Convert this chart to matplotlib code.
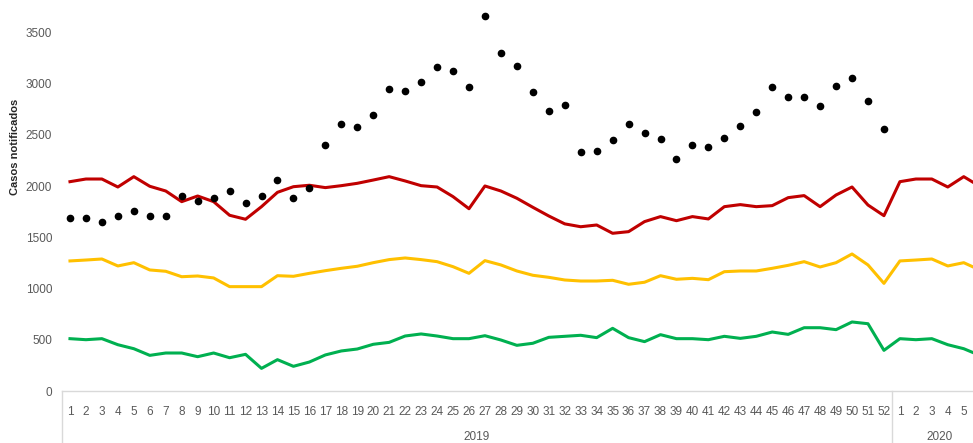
import matplotlib.pyplot as plt
import matplotlib.transforms as mtransforms

# weeks: 2019 w1..w52, then 2020 w1..w6 (the figure is cut after w5)
weeks_2019 = list(range(1, 53))
weeks_2020 = list(range(1, 7))
years = ['2019', '2020']

# notified cases 2019 (dots)
casos = [1689, 1689, 1654, 1712, 1761, 1712, 1712, 1904, 1852, 1888,
         1953, 1839, 1904, 2058, 1888, 1982, 2402, 2604, 2578, 2692,
         2952, 2927, 3021, 3164, 3125, 2972, 3662, 3298, 3174, 2923,
         2731, 2790, 2337, 2347, 2454, 2607, 2520, 2464, 2269, 2405,
         2386, 2474, 2588, 2721, 2972, 2874, 2874, 2780, 2982, 3057,
         2829, 2559]

# endemic channel lines (2019 weeks + 2020 weeks 1-6)
zona_alarma = [2044, 2070, 2070, 1992, 2093, 1999, 1953, 1849, 1904, 1849,
               1716, 1677, 1800, 1940, 1995, 2009, 1986, 2005, 2028, 2060,
               2093, 2051, 2005, 1992, 1898, 1780, 2002, 1953, 1882, 1794,
               1709, 1632, 1604, 1621, 1540, 1556, 1654, 1703, 1663, 1703,
               1680, 1800, 1820, 1800, 1810, 1888, 1908, 1800, 1914, 1992,
               1816, 1712,
               2044, 2070, 2070, 1992, 2093, 1999]
zona_seguridad = [1270, 1279, 1289, 1221, 1253, 1182, 1169, 1116, 1123, 1104,
                  1019, 1019, 1019, 1126, 1120, 1149, 1175, 1198, 1218, 1253,
                  1283, 1299, 1283, 1263, 1214, 1149, 1273, 1231, 1172, 1130,
                  1110, 1084, 1074, 1074, 1081, 1042, 1062, 1126, 1091, 1100,
                  1087, 1165, 1172, 1172, 1198, 1227, 1263, 1211, 1253, 1338,
                  1231, 1051,
                  1270, 1279, 1289, 1221, 1253, 1182]
zona_exito = [511, 501, 511, 452, 413, 348, 371, 371, 335, 371,
              325, 358, 221, 306, 241, 283, 352, 391, 410, 456,
              475, 537, 557, 537, 511, 511, 540, 498, 446, 466,
              524, 534, 544, 521, 612, 521, 482, 550, 511, 511,
              501, 534, 514, 534, 576, 553, 618, 618, 599, 674,
              657, 397,
              511, 501, 511, 452, 413, 348]

labels = [str(w) for w in weeks_2019] + [str(w) for w in weeks_2020]
x = list(range(len(labels)))
x19 = x[:len(casos)]

tick_font = ['Liberation Sans Narrow', 'Liberation Sans', 'DejaVu Sans']
grey = '#595959'

fig = plt.figure(figsize=(9.73, 4.43), dpi=100)
ax = fig.add_axes([62 / 973, 1 - 391 / 443, 1 - 62 / 973, 391 / 443])

ax.plot(x, zona_alarma, color='#C00000', lw=2.2)
ax.plot(x, zona_seguridad, color='#FFC000', lw=2.2)
ax.plot(x, zona_exito, color='#00B050', lw=2.2)
ax.plot(x19, casos, 'o', color='black', ms=4.5, ls='none')

ax.set_xlim(-0.5, 56.58)
ax.set_ylim(0, 3818)
ax.set_yticks(range(0, 4000, 500))
# week 6 of 2020 falls outside the visible area
ax.set_xticks(x[:-1])
ax.set_xticklabels(labels[:-1])
for lab in ax.get_xticklabels() + ax.get_yticklabels():
    lab.set_family(tick_font)
    lab.set_fontsize(8.5)
    lab.set_color(grey)
ax.tick_params(axis='x', length=0, pad=11)
ax.tick_params(axis='y', length=0, pad=7)

for s in ['top', 'right', 'left']:
    ax.spines[s].set_visible(False)
ax.spines['bottom'].set_color('#d9d9d9')
ax.spines['bottom'].set_linewidth(1)

# multi-level category axis: separators and year labels
trans = mtransforms.blended_transform_factory(ax.transData, ax.transAxes)
for xs in [-0.5, 51.5, 57.5]:
    ax.plot([xs, xs], [0, -0.14], color='#d9d9d9', lw=1,
            transform=trans, clip_on=False)
ax.text(25.5, -0.1176, years[0], transform=trans, ha='center', va='center',
        family=tick_font, fontsize=8.5, color=grey)
ax.text(54.5, -0.1176, years[1], transform=trans, ha='center', va='center',
        family=tick_font, fontsize=8.5, color=grey)

fig.text(15 / 973, 1 - 147 / 443, 'Casos notificados', rotation=90,
         ha='center', va='center', fontsize=8, fontweight='bold',
         family=tick_font, color='#262626')

fig.savefig('out.png', dpi=100)
